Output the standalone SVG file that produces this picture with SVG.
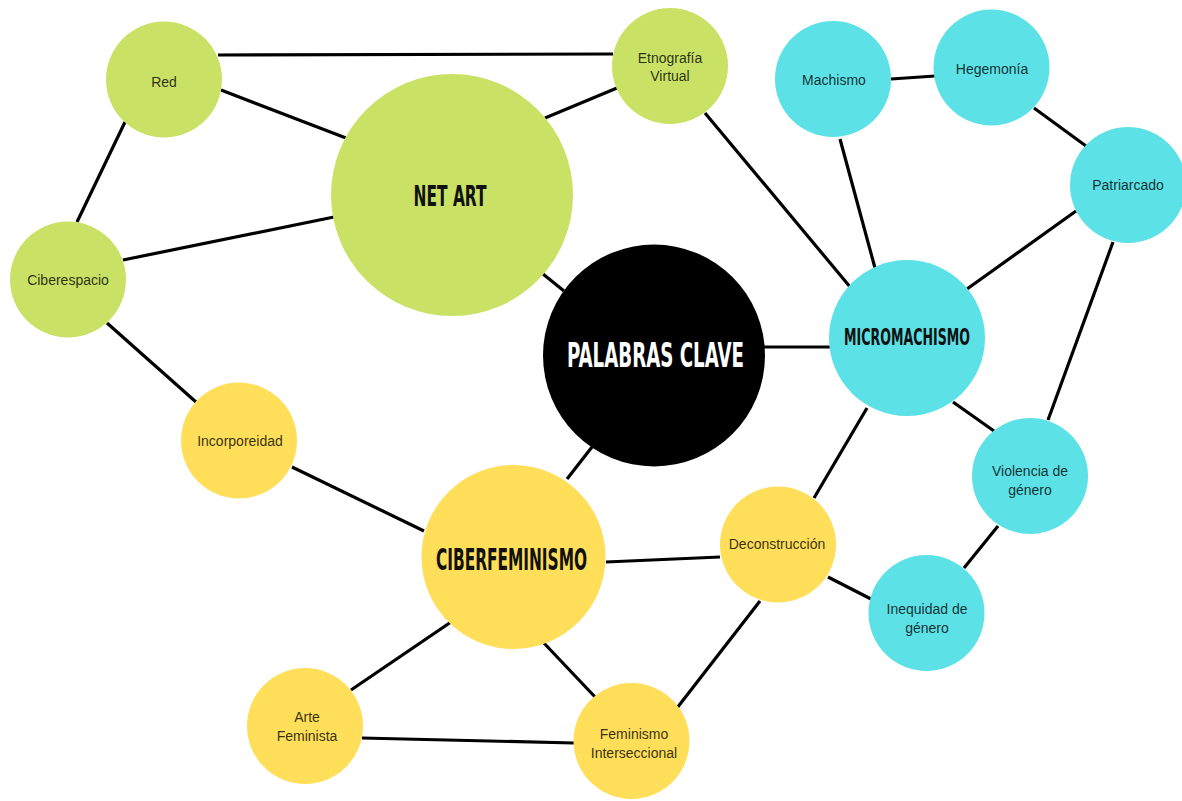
<svg xmlns="http://www.w3.org/2000/svg" width="1182" height="801" viewBox="0 0 1182 801">
<style>
.g{fill:#c9e265}.c{fill:#5ce1e6}.y{fill:#ffde59}.k{fill:#000}
.t{font-family:"Liberation Sans",Arial,sans-serif;font-size:14px;fill:#000;fill-opacity:.8;text-anchor:middle}
.h{font-family:"DejaVu Sans Condensed","Liberation Sans",sans-serif;font-weight:600;text-anchor:middle;fill:#111}
#edges line{stroke:#000;stroke-width:3.2;stroke-linecap:butt}
</style>
<rect width="1182" height="801" fill="#fff"/>
<g id="edges">
<line x1="218" y1="55" x2="613" y2="54"/>
<line x1="221" y1="90" x2="346" y2="138"/>
<line x1="125" y1="122" x2="77" y2="222"/>
<line x1="123" y1="260" x2="334" y2="217"/>
<line x1="545" y1="118" x2="617" y2="88"/>
<line x1="705" y1="113" x2="851" y2="288"/>
<line x1="840" y1="139" x2="875" y2="268"/>
<line x1="891" y1="79" x2="935" y2="76"/>
<line x1="1034" y1="108" x2="1086" y2="146"/>
<line x1="1076" y1="211" x2="967" y2="289"/>
<line x1="1113" y1="242" x2="1048" y2="420"/>
<line x1="762" y1="347" x2="830" y2="347"/>
<line x1="953" y1="402" x2="994" y2="431"/>
<line x1="867" y1="408" x2="814" y2="498"/>
<line x1="998" y1="526" x2="964" y2="568"/>
<line x1="828" y1="577" x2="871" y2="599"/>
<line x1="760" y1="601" x2="677" y2="708"/>
<line x1="606" y1="562" x2="720" y2="557"/>
<line x1="567" y1="479" x2="592" y2="447"/>
<line x1="543" y1="274" x2="564" y2="291"/>
<line x1="292" y1="467" x2="424" y2="531"/>
<line x1="107" y1="323" x2="196" y2="402"/>
<line x1="451" y1="622" x2="351" y2="690"/>
<line x1="542" y1="641" x2="596" y2="698"/>
<line x1="362" y1="738" x2="574" y2="743"/>
</g>
<g id="net-art"><circle class="g" cx="452" cy="195" r="121"/><text class="h" x="450" y="206" font-size="29" textLength="73" lengthAdjust="spacingAndGlyphs">NET ART</text></g>
<g id="red"><circle class="g" cx="164" cy="79.5" r="58"/><text class="t" x="164" y="87">Red</text></g>
<g id="etnografia"><circle class="g" cx="670" cy="66" r="58"/><text class="t" x="670" y="63">Etnografía</text><text class="t" x="670" y="81">Virtual</text></g>
<g id="ciberespacio"><circle class="g" cx="68" cy="279.5" r="58"/><text class="t" x="68" y="285">Ciberespacio</text></g>
<g id="palabras-clave"><circle class="k" cx="654" cy="355.5" r="111"/><text class="h" x="655.5" y="367" font-size="33" style="fill:#fff" textLength="177" lengthAdjust="spacingAndGlyphs">PALABRAS CLAVE</text></g>
<g id="micromachismo"><circle class="c" cx="907" cy="338" r="78"/><text class="h" x="907" y="345" font-size="23.5" textLength="126" lengthAdjust="spacingAndGlyphs">MICROMACHISMO</text></g>
<g id="machismo"><circle class="c" cx="833" cy="79" r="58"/><text class="t" x="834" y="85">Machismo</text></g>
<g id="hegemonia"><circle class="c" cx="991.5" cy="67.5" r="58"/><text class="t" x="992" y="74">Hegemonía</text></g>
<g id="patriarcado"><circle class="c" cx="1128" cy="185" r="58"/><text class="t" x="1128" y="190">Patriarcado</text></g>
<g id="violencia"><circle class="c" cx="1030" cy="476" r="58"/><text class="t" x="1030" y="476">Violencia de</text><text class="t" x="1030" y="495">género</text></g>
<g id="inequidad"><circle class="c" cx="926.5" cy="613" r="58"/><text class="t" x="927" y="614">Inequidad de</text><text class="t" x="927" y="633">género</text></g>
<g id="incorporeidad"><circle class="y" cx="239" cy="440.5" r="58"/><text class="t" x="240" y="446">Incorporeidad</text></g>
<g id="ciberfeminismo"><circle class="y" cx="513.5" cy="557" r="92"/><text class="h" x="511.5" y="570" font-size="30" textLength="151" lengthAdjust="spacingAndGlyphs">CIBERFEMINISMO</text></g>
<g id="deconstruccion"><circle class="y" cx="778" cy="544.5" r="58"/><text class="t" x="777" y="549">Deconstrucción</text></g>
<g id="arte-feminista"><circle class="y" cx="305" cy="726" r="58"/><text class="t" x="307" y="722">Arte</text><text class="t" x="307" y="741">Feminista</text></g>
<g id="feminismo-interseccional"><circle class="y" cx="631.5" cy="741" r="58"/><text class="t" x="634" y="739">Feminismo</text><text class="t" x="634" y="758">Interseccional</text></g>
</svg>
